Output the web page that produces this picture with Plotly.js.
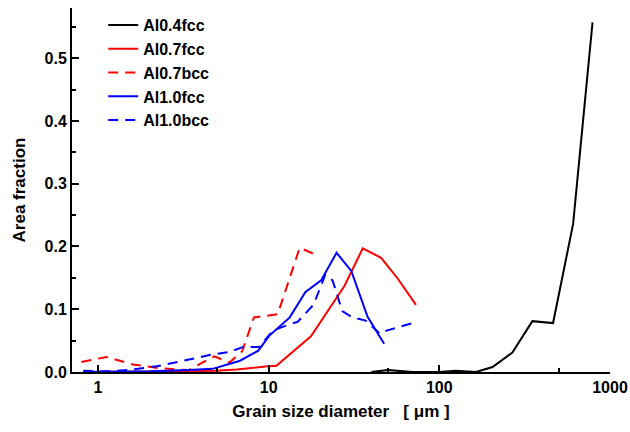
<!DOCTYPE html>
<html>
<head>
<meta charset="utf-8">
<script src="https://cdn.plot.ly/plotly-3.0.1.min.js"></script>
<style>html,body{margin:0;padding:0;background:#fff;}#chart{width:630px;height:432px;}</style>
</head>
<body>
<div id="chart"></div>
<script>
// Al0.4fcc (black)
const al04fccX = [40, 50, 70, 100, 125, 164, 205, 268, 351, 464, 608, 790];
const al04fccY = [0.0, 0.003, 0.0, 0.0, 0.002, 0.0, 0.008, 0.031, 0.081, 0.078, 0.236, 0.557];
// Al0.7fcc (red solid)
const al07fccX = [0.82, 2, 3.4, 4.9, 6.5, 9.9, 11.1, 17.7, 27.8, 35.6, 45.6, 57, 73];
const al07fccY = [0.0, 0.0, 0.001, 0.002, 0.004, 0.009, 0.010, 0.057, 0.137, 0.197, 0.182, 0.149, 0.107];
// Al0.7bcc (red dashed)
const al07bccX = [0.8, 1.12, 1.6, 2.3, 3.4, 4.8, 5.9, 7.0, 8.2, 11.3, 15.2, 18.8];
const al07bccY = [0.016, 0.024, 0.012, 0.006, 0.003, 0.025, 0.015, 0.033, 0.087, 0.092, 0.198, 0.187];
// Al1.0fcc (blue solid)
const al10fccX = [0.82, 2, 3.4, 4.7, 6.8, 8.7, 10.1, 11.6, 13.3, 16.4, 20.3, 25, 30.5, 38, 47.5];
const al10fccY = [0.0, 0.001, 0.003, 0.005, 0.018, 0.034, 0.058, 0.072, 0.087, 0.127, 0.146, 0.190, 0.161, 0.088, 0.045];
// Al1.0bcc (blue dashed)
const al10bccX = [0.82, 1.17, 1.6, 2.2, 3.3, 4.5, 5.9, 7.1, 8.8, 10.6, 12.7, 14.8, 18.3, 21.5, 23.7, 27, 31, 37, 45, 49, 70];
const al10bccY = [0.002, 0.001, 0.004, 0.009, 0.019, 0.027, 0.032, 0.040, 0.040, 0.066, 0.074, 0.080, 0.107, 0.155, 0.146, 0.097, 0.087, 0.082, 0.061, 0.066, 0.078];

const xTickVals = [1, 10, 100, 1000];
const xTickText = ['1', '10', '100', '1000'];
const xMinorVals = [5, 50, 500];
const yTickVals = [0, 0.1, 0.2, 0.3, 0.4, 0.5];

const traces = [
  {x: al04fccX, y: al04fccY, name: 'Al0.4fcc', mode: 'lines', line: {color: '#000000', width: 2}},
  {x: al07fccX, y: al07fccY, name: 'Al0.7fcc', mode: 'lines', line: {color: '#ff0000', width: 2}},
  {x: al07bccX, y: al07bccY, name: 'Al0.7bcc', mode: 'lines', line: {color: '#ff0000', width: 2, dash: '10px,7px'}},
  {x: al10fccX, y: al10fccY, name: 'Al1.0fcc', mode: 'lines', line: {color: '#0000ff', width: 2}},
  {x: al10bccX, y: al10bccY, name: 'Al1.0bcc', mode: 'lines', line: {color: '#0000ff', width: 2, dash: '10px,7px'}}
];

const fam = 'Liberation Sans, Arial, sans-serif';

const layout = {
  width: 630, height: 432,
  margin: {l: 72, r: 20, t: 8, b: 60},
  paper_bgcolor: '#fff', plot_bgcolor: '#fff',
  font: {family: fam, color: '#000', size: 14},
  showlegend: true,
  legend: {x: 0.058, y: 1.0, xanchor: 'left', yanchor: 'top', bgcolor: 'rgba(0,0,0,0)',
           font: {family: fam, size: 16, color: '#000', weight: 'bold'},
           tracegroupgap: 0, itemwidth: 30},
  xaxis: {
    type: 'log', range: [-0.152, 3.0],
    tickvals: xTickVals, ticktext: xTickText,
    ticks: 'inside', ticklen: 7, tickwidth: 2, tickcolor: '#000',
    minor: {tickvals: xMinorVals, ticks: 'inside', ticklen: 4, tickwidth: 2, tickcolor: '#000', showgrid: false},
    showline: true, linecolor: '#000', linewidth: 2, mirror: false,
    showgrid: false, zeroline: false,
    tickfont: {family: fam, size: 16, weight: 'bold'},
    title: {text: 'Grain size diameter   [ μm ]', standoff: 10,
            font: {family: fam, size: 17, weight: 'bold'}}
  },
  yaxis: {
    range: [0, 0.58],
    tickvals: yTickVals, tickformat: '.1f',
    ticks: 'inside', ticklen: 7, tickwidth: 2, tickcolor: '#000',
    minor: {dtick: 0.05, tick0: 0, ticks: 'inside', ticklen: 4, tickwidth: 2, tickcolor: '#000', showgrid: false},
    showline: true, linecolor: '#000', linewidth: 2, mirror: false,
    showgrid: false, zeroline: false,
    tickfont: {family: fam, size: 16, weight: 'bold'},
    title: {text: 'Area fraction', standoff: 15,
            font: {family: fam, size: 17, weight: 'bold'}}
  }
};

Plotly.newPlot('chart', traces, layout, {displayModeBar: false, staticPlot: true});
</script>
</body>
</html>
